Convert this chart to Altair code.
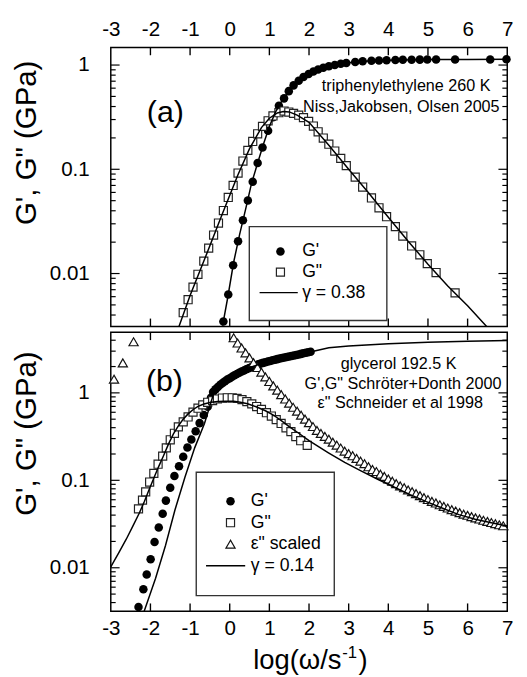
import altair as alt
import pandas as pd

FONT = "Liberation Sans"
W, H = 405, 285

# ---------------- panel (a): triphenylethylene 260 K ----------------
a_gp_x = [-0.16, -0.037, 0.086, 0.21, 0.333, 0.457, 0.58, 0.704, 0.827, 0.968,
          1.091, 1.24, 1.37, 1.49, 1.61, 1.74, 1.86, 1.99, 2.11, 2.23,
          2.36, 2.50, 2.65, 2.80, 2.94, 3.165, 3.353, 3.575, 3.765, 3.956,
          4.178, 4.366, 4.588, 4.795, 4.983, 5.205, 5.684, 6.57, 6.98]
a_gp_y = [0.00347, 0.0063, 0.0120, 0.0204, 0.0324, 0.0501, 0.0759, 0.1148, 0.162, 0.234,
          0.316, 0.407, 0.479, 0.562, 0.638, 0.708, 0.767, 0.822, 0.867, 0.906,
          0.942, 0.973, 1.000, 1.028, 1.047, 1.072, 1.086, 1.099, 1.107, 1.114,
          1.119, 1.122, 1.125, 1.127, 1.130, 1.130, 1.132, 1.132, 1.135]

a_gpp_x = [-1.173, -1.05, -0.926, -0.802, -0.654, -0.531, -0.407, -0.284, -0.16, -0.037,
           0.086, 0.21, 0.333, 0.457, 0.58, 0.704, 0.827, 0.968, 1.091, 1.24,
           1.37, 1.49, 1.61, 1.74, 1.86, 1.99, 2.11, 2.23, 2.36, 2.50,
           2.65, 2.80, 2.94, 3.165, 3.353, 3.575, 3.765, 3.956, 4.178, 4.366,
           4.588, 4.795, 4.983, 5.205, 5.684]
a_gpp_y = [0.00421, 0.00561, 0.0074, 0.00984, 0.01315, 0.01754, 0.0234, 0.0305, 0.0402, 0.0537,
           0.070, 0.092, 0.120, 0.152, 0.185, 0.219, 0.258, 0.292, 0.325, 0.349,
           0.362, 0.354, 0.344, 0.330, 0.313, 0.288, 0.260, 0.229, 0.1995, 0.174,
           0.1496, 0.1274, 0.1084, 0.0841, 0.0676, 0.0531, 0.0427, 0.0351, 0.0282, 0.0229,
           0.0184, 0.01514, 0.01245, 0.01023, 0.00653]

a_fit_gp_x = [-0.18, -0.05, 0.10, 0.25, 0.40, 0.55, 0.70, 0.85, 1.00, 1.15, 1.30,
              1.50, 1.70, 2.00, 2.30, 2.60, 3.00, 3.50, 4.00, 5.00, 6.00, 7.00]
a_fit_gp_y = [0.00316, 0.00589, 0.0129, 0.0237, 0.0412, 0.0733, 0.1135, 0.174, 0.257, 0.351, 0.442,
              0.569, 0.687, 0.826, 0.933, 0.991, 1.054, 1.094, 1.114, 1.130, 1.132, 1.135]

a_fit_gpp_x = [-1.28, -1.00, -0.60, -0.20, 0.20, 0.50, 0.80, 1.00, 1.20, 1.35, 1.50,
               1.70, 2.00, 2.50, 3.00, 3.50, 4.00, 4.50, 5.00, 5.50, 6.00, 6.48]
a_fit_gpp_y = [0.00311, 0.00617, 0.0148, 0.0363, 0.0871, 0.158, 0.251, 0.309, 0.347, 0.359, 0.355,
               0.331, 0.282, 0.170, 0.100, 0.0596, 0.0347, 0.0204, 0.0123, 0.00759, 0.0049, 0.00311]

# ---------------- panel (b): glycerol 192.5 K ----------------
b_gp_x = [-2.301, -2.178, -2.094, -1.995, -1.896, -1.79, -1.691, -1.61, -1.501, -1.395,
          -1.279, -1.173, -1.067, -0.968, -0.859, -0.760, -0.654, -0.556, -0.474,
          -0.42, -0.36, -0.30, -0.24, -0.18, -0.12, -0.06, 0.00, 0.06, 0.12,
          0.18, 0.24, 0.30, 0.36, 0.42, 0.48, 0.54, 0.60, 0.66, 0.72,
          0.78, 0.84, 0.90, 0.96, 1.02, 1.08, 1.14, 1.20, 1.26, 1.32,
          1.38, 1.44, 1.50, 1.56, 1.62, 1.68, 1.74, 1.80, 1.86, 1.92,
          1.98, 2.04]
b_gp_y = [0.00355, 0.00568, 0.00836, 0.0125, 0.0197, 0.0289, 0.0415, 0.0586, 0.0824, 0.112,
          0.145, 0.186, 0.237, 0.293, 0.364, 0.451, 0.557, 0.692, 0.88,
          1.023, 1.096, 1.167, 1.236, 1.300, 1.361, 1.419, 1.472, 1.531, 1.589,
          1.644, 1.698, 1.754, 1.807, 1.862, 1.914, 1.968, 2.018, 2.070, 2.118,
          2.163, 2.203, 2.244, 2.280, 2.317, 2.355, 2.393, 2.432, 2.466, 2.500,
          2.535, 2.570, 2.606, 2.642, 2.679, 2.716, 2.754, 2.793, 2.831, 2.871,
          2.911, 2.951]

b_gpp_x = [-2.301, -2.20, -2.12, -2.02, -1.914, -1.807, -1.691, -1.60, -1.50, -1.395,
           -1.296, -1.173, -1.05, -0.926, -0.80, -0.679, -0.556, -0.432, -0.31, -0.185,
           -0.062, 0.062, 0.185, 0.309, 0.432, 0.556, 0.679, 0.80, 0.926, 1.05,
           1.173, 1.296, 1.42, 1.543, 1.667, 1.79, 1.955]
b_gpp_y = [0.0472, 0.0594, 0.0738, 0.0955, 0.120, 0.1528, 0.189, 0.235, 0.291, 0.345,
           0.409, 0.466, 0.530, 0.603, 0.668, 0.729, 0.780, 0.815, 0.851, 0.873,
           0.879, 0.879, 0.863, 0.836, 0.794, 0.748, 0.698, 0.646, 0.593, 0.543,
           0.495, 0.447, 0.399, 0.360, 0.317, 0.284, 0.251]

b_eps_x = [-2.918, -2.696, -2.425,
           0.10, 0.20, 0.30, 0.40, 0.50, 0.60, 0.70, 0.80, 0.90, 1.00,
           1.10, 1.20, 1.30, 1.40, 1.50, 1.60, 1.70, 1.80, 1.90, 2.00,
           2.10, 2.20, 2.30, 2.40, 2.50, 2.60, 2.70, 2.80, 2.90, 3.00,
           3.10, 3.20, 3.30, 3.40, 3.50, 3.60, 3.70, 3.80, 3.90, 4.00,
           4.10, 4.20, 4.30, 4.40, 4.50, 4.60, 4.70, 4.80, 4.90, 5.00,
           5.10, 5.20, 5.30, 5.40, 5.50, 5.60, 5.70, 5.80, 5.90, 6.00,
           6.10, 6.20, 6.30, 6.40, 6.50, 6.60, 6.70, 6.80, 6.90]
b_eps_y = [1.432, 2.203, 3.837,
           4.266, 3.715, 3.258, 2.871, 2.512, 2.213, 1.950, 1.722, 1.521, 1.349,
           1.202, 1.072, 0.955, 0.851, 0.762, 0.684, 0.617, 0.556, 0.501, 0.457,
           0.412, 0.372, 0.344, 0.318, 0.295, 0.273, 0.253, 0.234, 0.216, 0.202,
           0.191, 0.178, 0.166, 0.155, 0.143, 0.133, 0.126, 0.1175, 0.1109, 0.1035,
           0.0977, 0.0918, 0.0865, 0.0822, 0.0776, 0.0741, 0.0705, 0.0668, 0.0634, 0.0603,
           0.0575, 0.0550, 0.0525, 0.0504, 0.0482, 0.0462, 0.0445, 0.0427, 0.0410, 0.0398,
           0.0385, 0.0372, 0.0361, 0.0349, 0.0339, 0.0329, 0.0319, 0.0310, 0.0302]

b_fit_gp_x = [-2.16, -1.87, -1.62, -1.38, -1.13, -0.884, -0.637, -0.40, -0.20, 0.00,
              0.30, 0.60, 1.00, 1.50, 2.00, 2.50, 3.00, 4.00, 5.00, 6.00, 7.00]
b_fit_gp_y = [0.00316, 0.00759, 0.01795, 0.0460, 0.1086, 0.235, 0.447, 1.0, 1.23, 1.462,
              1.758, 2.018, 2.291, 2.600, 2.917, 3.273, 3.428, 3.648, 3.784, 3.890, 3.981]

b_fit_gpp_x = [-3.00, -2.80, -2.61, -2.45, -2.28, -2.15, -2.04, -1.90, -1.79, -1.67,
               -1.54, -1.42, -1.30, -1.18, -1.05, -0.92, -0.80, -0.65, -0.47, -0.30,
               -0.10, 0.10, 0.27, 0.45, 0.68, 0.90, 1.09, 1.30, 1.50, 1.75,
               2.00, 2.49, 2.90, 3.31, 3.72, 4.14, 4.55, 4.96, 5.37, 5.78,
               6.19, 6.60, 7.00]
b_fit_gpp_y = [0.01026, 0.0148, 0.0212, 0.0295, 0.0423, 0.0575, 0.0769, 0.1096, 0.1445, 0.191,
               0.263, 0.339, 0.417, 0.495, 0.575, 0.646, 0.700, 0.745, 0.780, 0.798,
               0.805, 0.800, 0.783, 0.750, 0.689, 0.624, 0.562, 0.481, 0.412, 0.343,
               0.284, 0.2065, 0.160, 0.1285, 0.1035, 0.0839, 0.0687, 0.0570, 0.0479, 0.0405,
               0.0359, 0.0327, 0.0300]

# ---------------- axes / labels ----------------
x_ticks = [-3, -2, -1, 0, 1, 2, 3, 4, 5, 6, 7]
y_major = [0.01, 0.1, 1]
y_minor_a = [0.004, 0.005, 0.006, 0.007, 0.008, 0.009,
             0.02, 0.03, 0.04, 0.05, 0.06, 0.07, 0.08, 0.09,
             0.2, 0.3, 0.4, 0.5, 0.6, 0.7, 0.8, 0.9]
y_minor_b = y_minor_a + [2, 3, 4]
y_dom_a = [0.00311, 1.476]
y_dom_b = [0.00318, 4.93]

y_title = "G', G\" (GPa)"
x_title_parts = ["log(\u03c9/s", "-1", ")"]
legend_a_labels = ["G'", "G\"", "\u03b3 = 0.38"]
legend_b_labels = ["G'", "G\"", "\u03b5\" scaled", "\u03b3 = 0.14"]
note_a = ["triphenylethylene 260 K", "Niss,Jakobsen, Olsen 2005"]
note_b = ["glycerol 192.5 K", "G',G\" Schr\u00f6ter+Donth 2000", "\u03b5\" Schneider et al 1998"]


def df(x, y):
    return pd.DataFrame({"x": x, "y": y})


def one(label):
    return pd.DataFrame({"label": [label]})


CIRCLE = dict(shape="circle", filled=True, color="black", size=76, opacity=1)
SQUARE = dict(shape="square", filled=True, fill="white", stroke="#222", strokeWidth=1.2, size=68, opacity=1)
TRI = dict(shape="triangle-up", filled=True, fill="white", stroke="#111", strokeWidth=1.2, size=88, opacity=1)


def build_panel(ax, ay, dom, minor, series, fits, legend_spec, note_spec, label_spec, extra=None):
    def X():
        return alt.X("x:Q", scale=alt.Scale(domain=[-3, 7], nice=False, zero=False), axis=ax)

    def Y():
        return alt.Y("y:Q", scale=alt.Scale(type="log", domain=dom, nice=False), axis=ay)

    layers = []
    for (xv, yv, style) in series:
        layers.append(alt.Chart(df(xv, yv)).mark_point(**style).encode(x=X(), y=Y()))
    for (xv, yv) in fits:
        layers.append(alt.Chart(df(xv, yv)).mark_line(color="black", strokeWidth=1.5).encode(x=X(), y=Y()))

    # inward ticks
    xt = pd.DataFrame({"x": x_ticks[1:-1]})
    for y0, y1 in [(0, 8), (H - 8, H)]:
        layers.append(alt.Chart(xt).mark_rule(color="black", strokeWidth=1.4).encode(
            x=X(), y=alt.value(y0), y2=alt.value(y1)))
    for vals, L in [(y_major, 9), (minor, 5)]:
        d = pd.DataFrame({"y": vals})
        layers.append(alt.Chart(d).mark_rule(color="black", strokeWidth=1.2).encode(
            y=Y(), x=alt.value(0), x2=alt.value(L)))
        layers.append(alt.Chart(d).mark_rule(color="black", strokeWidth=1.2).encode(
            y=Y(), x=alt.value(W - L), x2=alt.value(W)))

    # legend
    box, rows, sym_x, text_x, line_x, kinds, labels = legend_spec
    layers.append(alt.Chart(one("box")).mark_rect(fill="white", stroke="#333", strokeWidth=1.4).encode(
        x=alt.value(box[0]), x2=alt.value(box[1]), y=alt.value(box[2]), y2=alt.value(box[3])))
    for r, k, lab in zip(rows, kinds, labels):
        if k == "line":
            layers.append(alt.Chart(one(lab)).mark_rule(color="black", strokeWidth=1.5).encode(
                x=alt.value(line_x[0]), x2=alt.value(line_x[1]), y=alt.value(r)))
        else:
            layers.append(alt.Chart(one(lab)).mark_point(**k).encode(x=alt.value(sym_x), y=alt.value(r)))
        layers.append(alt.Chart(one(lab)).mark_text(align="left", baseline="middle", fontSize=18,
                                                    font=FONT, color="black").encode(
            x=alt.value(text_x), y=alt.value(r), text="label:N"))

    # annotations
    for lines, xs_, ys_, size, align, base in [note_spec, label_spec] + (extra or []):
        for t, x0, y0 in zip(lines, xs_, ys_):
            layers.append(alt.Chart(one(t)).mark_text(align=align, baseline=base, fontSize=size,
                                                      font=FONT, color="black").encode(
                x=alt.value(x0), y=alt.value(y0), text="label:N"))
    return alt.layer(*layers).properties(width=W, height=H)


ax_top = alt.Axis(orient="top", values=x_ticks, labelExpr="'' + datum.value", ticks=False,
                  domain=False, grid=False, labelFontSize=21, labelPadding=8, labelFlush=False,
                  title=None)
ay_a = alt.Axis(values=y_major, format="~g", ticks=False, domain=False, grid=False,
                labelFontSize=21, labelPadding=22, labelFlush=False, title=y_title, titleFontSize=30,
                titleFontWeight="normal", titleX=-86, titleY=97, titleAngle=270,
                titleAlign="center", titleBaseline="middle")
ax_bot = alt.Axis(orient="bottom", values=x_ticks, labelExpr="'' + datum.value", ticks=False,
                  domain=False, grid=False, labelFontSize=21, labelPadding=7, labelFlush=False,
                  title=None)
ay_b = alt.Axis(values=y_major, format="~g", ticks=False, domain=False, grid=False,
                labelFontSize=21, labelPadding=22, labelFlush=False, title=y_title, titleFontSize=30,
                titleFontWeight="normal", titleX=-86, titleY=103, titleAngle=270,
                titleAlign="center", titleBaseline="middle")

top = build_panel(
    ax_top, ay_a, y_dom_a, y_minor_a,
    [(a_gp_x, a_gp_y, CIRCLE), (a_gpp_x, a_gpp_y, SQUARE)],
    [(a_fit_gp_x, a_fit_gp_y), (a_fit_gpp_x, a_fit_gpp_y)],
    ((141.5, 282, 183, 279), [208.5, 229.5, 250.5], 173.3, 195.5, (152, 191),
     [CIRCLE, SQUARE, "line"], legend_a_labels),
    (note_a, [301.7, 296.8], [40, 61], 16.5, "center", "middle"),
    (["(a)"], [55.7], [66.7], 31, "center", "middle"),
)

bottom = build_panel(
    ax_bot, ay_b, y_dom_b, y_minor_b,
    [(b_gp_x, b_gp_y, CIRCLE), (b_gpp_x, b_gpp_y, SQUARE), (b_eps_x, b_eps_y, TRI)],
    [(b_fit_gp_x, b_fit_gp_y), (b_fit_gpp_x, b_fit_gpp_y)],
    ((87.3, 228.3, 143, 269), [172.5, 194.5, 216.5, 238.5], 122.3, 143, (97.3, 137.3),
     [CIRCLE, SQUARE, TRI, "line"], legend_b_labels),
    (note_b, [294, 298.5, 295.7], [32, 53, 72], 16.5, "center", "middle"),
    (["(b)"], [54.8], [50.5], 31, "center", "middle"),
    extra=[
        ([x_title_parts[0]], [235.7], [344], 28, "right", "alphabetic"),
        ([x_title_parts[1]], [236.5], [333], 17, "left", "alphabetic"),
        ([x_title_parts[2]], [253], [344], 28, "left", "alphabetic"),
    ],
)

chart = alt.vconcat(top, bottom, spacing=0).properties(
    padding={"left": 3, "top": 3, "right": 5, "bottom": 0}
).configure(font=FONT).configure_view(stroke="black", strokeWidth=1.5).configure_axis(
    labelColor="black", titleColor="black", labelFont=FONT, titleFont=FONT)

chart.save("out.html", embed_options={"renderer": "svg", "actions": False})
